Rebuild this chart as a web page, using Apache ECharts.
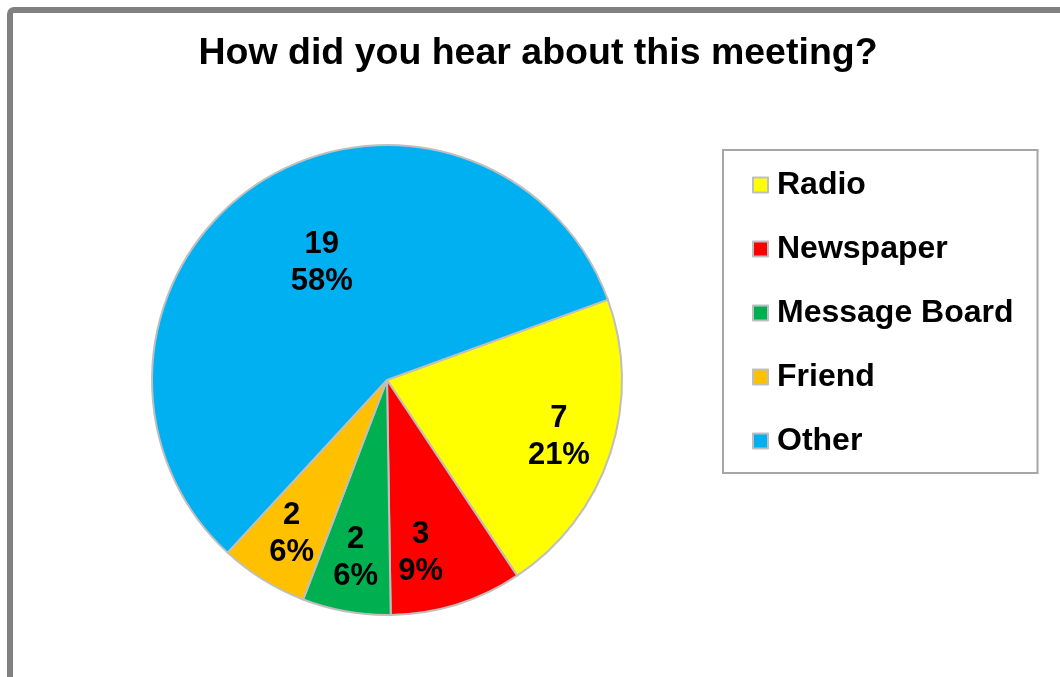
<!DOCTYPE html>
<html>
<head>
<meta charset="utf-8">
<script src="https://cdn.jsdelivr.net/npm/echarts@6/dist/echarts.min.js"></script>
<style>
  html, body { margin: 0; padding: 0; background: #ffffff; }
  #chart { width: 1060px; height: 677px; }
</style>
</head>
<body>
<div id="chart"></div>
<script>
// Survey answers: how people heard about the meeting
const categories = ['Radio', 'Newspaper', 'Message Board', 'Friend', 'Other'];
const counts = [7, 3, 2, 2, 19];
const sliceColors = ['#FFFF00', '#FF0000', '#00B050', '#FFC000', '#00B0F0'];

const FONT = "'Liberation Sans', Arial, sans-serif";
const PIE_CENTER = [387, 380];
const PIE_RADIUS = 235;
const START_ANGLE = 20;
// labels sit this far out along each slice's middle (fraction of radius)
const LABEL_DEPTH = 0.77;
const LABEL_DEPTH_LARGE = 0.57;
// small hand nudges (px) for labels that read better off-centre
const LABEL_NUDGE = { 'Newspaper': [-20, 0], 'Other': [9, -6] };

const total = counts.reduce((a, b) => a + b, 0);
const midAngles = [];
let acc = 0;
counts.forEach(v => {
  const sweep = v / total * 360;
  midAngles.push(START_ANGLE - acc - sweep / 2);
  acc += sweep;
});

const chart = echarts.init(document.getElementById('chart'), null, { renderer: 'canvas' });

chart.setOption({
  animation: false,
  backgroundColor: '#ffffff',
  graphic: [{
    type: 'rect',
    shape: { x: 10, y: 10, width: 1200, height: 800, r: 4 },
    style: { fill: 'none', stroke: '#808080', lineWidth: 6 },
    silent: true,
    z: 0
  }],
  title: {
    text: 'How did you hear about this meeting?',
    left: 538,
    textAlign: 'center',
    top: 35,
    padding: 0,
    textStyle: { fontFamily: FONT, fontSize: 37.5, fontWeight: 'bold', color: '#000000' }
  },
  legend: {
    orient: 'vertical',
    left: 723,
    top: 150,
    padding: [18, 24, 15, 29],
    itemGap: 30,
    itemWidth: 15,
    itemHeight: 15,
    icon: 'rect',
    backgroundColor: '#ffffff',
    borderColor: '#a6a6a6',
    borderWidth: 2,
    selectedMode: false,
    data: categories,
    itemStyle: { borderColor: '#bfbfbf', borderWidth: 2 },
    textStyle: {
      fontFamily: FONT, fontSize: 32, fontWeight: 'bold', color: '#000000',
      lineHeight: 34, padding: [0, 0, 0, 4]
    }
  },
  series: [{
    type: 'pie',
    center: PIE_CENTER,
    radius: PIE_RADIUS,
    startAngle: START_ANGLE,
    clockwise: true,
    percentPrecision: 0,
    avoidLabelOverlap: false,
    itemStyle: { borderColor: '#bfbfbf', borderWidth: 2 },
    emphasis: { disabled: true },
    label: {
      show: true,
      position: 'inside',
      formatter: '{c}\n{d}%',
      fontFamily: FONT,
      fontSize: 31,
      fontWeight: 'bold',
      lineHeight: 37,
      color: '#000000',
      align: 'center'
    },
    labelLine: { show: false },
    labelLayout: function (params) {
      const i = params.dataIndex;
      const depth = counts[i] / total > 0.5 ? LABEL_DEPTH_LARGE : LABEL_DEPTH;
      const a = midAngles[i] * Math.PI / 180;
      const r = PIE_RADIUS * depth;
      const nudge = LABEL_NUDGE[categories[i]] || [0, 0];
      return {
        x: PIE_CENTER[0] + r * Math.cos(a) + nudge[0],
        y: PIE_CENTER[1] - r * Math.sin(a) + nudge[1],
        align: 'center',
        verticalAlign: 'middle'
      };
    },
    data: categories.map((name, i) => ({
      name: name,
      value: counts[i],
      itemStyle: { color: sliceColors[i] }
    }))
  }]
});
</script>
</body>
</html>
